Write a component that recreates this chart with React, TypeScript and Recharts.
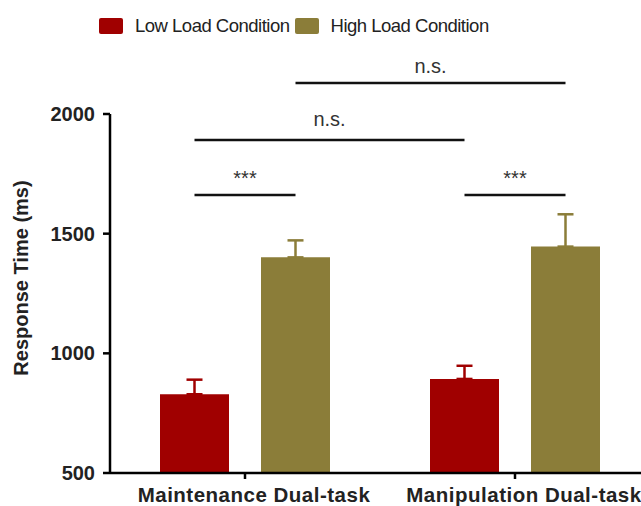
import React from 'react';
import { BarChart, Bar, XAxis, YAxis, ErrorBar, Legend, ReferenceLine } from 'recharts';

const categories = ['Maintenance Dual-task', 'Manipulation Dual-task'];
const seriesNames = ['Low Load Condition', 'High Load Condition'];
const lowLoadMeans = [829, 893];
const lowLoadErrors = [61, 55];
const highLoadMeans = [1401, 1446];
const highLoadErrors = [71, 135];
const yTicks = [500, 1000, 1500, 2000];

// significance brackets, each joins two bars given as [category, series]
const sigFrom = [[0, 0], [1, 0], [0, 0], [0, 1]];
const sigTo = [[0, 1], [1, 1], [1, 0], [1, 1]];
const sigLevels = [1662, 1662, 1891, 2130];
const sigLabels = ['***', '***', 'n.s.', 'n.s.'];
const sigLabelOffsets = [10, 10, 14, 10];

const RED = '#a00000';
const OLIVE = '#8b7d39';
const COLORS = [RED, OLIVE];
const INK = '#222';
const FONT = '"Liberation Sans", Arial, Helvetica, sans-serif';

const W = 660;
const H = 506;
const LEFT = 110;
const PLOT_W = 540;
const BAR = 69;
const GAP = 32;
const LEGEND_H = 24;

const data = categories.map((name, i) => ({
  name,
  low: lowLoadMeans[i],
  lowErr: [0, lowLoadErrors[i]],
  high: highLoadMeans[i],
  highErr: [0, highLoadErrors[i]],
}));

// offset of a series' bar centre from its category centre
const seriesOffset = (s: number) => (s - 0.5) * (BAR + GAP);

const renderLegend = () => (
  <div style={{ display: 'flex', alignItems: 'center', height: LEGEND_H, fontFamily: FONT, fontSize: 18.5, letterSpacing: -0.5, color: INK }}>
    {seriesNames.map((name, i) => (
      <div key={name} style={{ display: 'flex', alignItems: 'center' }}>
        <span style={{ width: 24, height: 16, background: COLORS[i], borderRadius: 2, marginRight: 12 }} />
        <span style={{ marginRight: 5, lineHeight: `${LEGEND_H}px` }}>{name}</span>
      </div>
    ))}
  </div>
);

const XTick = ({ x, y, payload }: any) => (
  <text x={x + 9} y={y} dy={14} textAnchor="middle" fontFamily={FONT} fontSize={20.5} fontWeight="bold" letterSpacing={0.5} fill={INK}>
    {payload.value}
  </text>
);

const YTitle = () => (
  <text x={28} y={278} transform="rotate(-90, 28, 278)" textAnchor="middle" fontFamily={FONT} fontSize={20} fontWeight="bold" fill={INK}>
    Response Time (ms)
  </text>
);

const bracketShape = (i: number) => (props: any) => {
  const xa = props.x1 + seriesOffset(sigFrom[i][1]);
  const xb = props.x2 + seriesOffset(sigTo[i][1]);
  const y = props.y1;
  return (
    <g>
      <line x1={xa} y1={y} x2={xb} y2={y} stroke="#111" strokeWidth={2.5} />
      <text x={(xa + xb) / 2} y={y - sigLabelOffsets[i]} textAnchor="middle" fontFamily={FONT} fontSize={20} fill="#333">
        {sigLabels[i]}
      </text>
    </g>
  );
};

export default function App() {
  return (
    <div style={{ position: 'absolute', left: 0, top: 0, width: 641, height: 506, overflow: 'hidden', background: '#fff' }}>
      <BarChart
        width={W}
        height={H}
        data={data}
        margin={{ top: 114 - LEGEND_H, right: W - LEFT - PLOT_W, bottom: 0, left: 0 }}
        barSize={BAR}
        barGap={GAP}
      >
        <Legend verticalAlign="top" content={renderLegend} wrapperStyle={{ top: 14, left: 99, width: 'auto' }} />
        <XAxis
          dataKey="name"
          height={33}
          axisLine={{ stroke: '#000', strokeWidth: 2.5 }}
          tickLine={{ stroke: '#000', strokeWidth: 2.5 }}
          tickSize={6}
          tickMargin={9}
          tick={<XTick />}
        />
        <YAxis
          width={LEFT}
          domain={[500, 2000]}
          ticks={yTicks}
          allowDataOverflow
          axisLine={{ stroke: '#000', strokeWidth: 2.5 }}
          tickLine={{ stroke: '#000', strokeWidth: 2.5 }}
          tickSize={7}
          tickMargin={8}
          tick={{ fontFamily: FONT, fontSize: 20, fontWeight: 'bold', fill: INK }}
          label={{ content: () => <YTitle /> }}
        />
        <Bar dataKey="low" name={seriesNames[0]} fill={RED} isAnimationActive={false}>
          <ErrorBar dataKey="lowErr" width={8} stroke={RED} strokeWidth={2.5} direction="y" />
        </Bar>
        <Bar dataKey="high" name={seriesNames[1]} fill={OLIVE} isAnimationActive={false}>
          <ErrorBar dataKey="highErr" width={8} stroke={OLIVE} strokeWidth={2.5} direction="y" />
        </Bar>
        {sigLabels.map((label, i) => (
          <ReferenceLine
            key={label + i}
            ifOverflow="visible"
            segment={[
              { x: categories[sigFrom[i][0]], y: sigLevels[i] },
              { x: categories[sigTo[i][0]], y: sigLevels[i] },
            ]}
            shape={bracketShape(i)}
          />
        ))}
      </BarChart>
    </div>
  );
}
